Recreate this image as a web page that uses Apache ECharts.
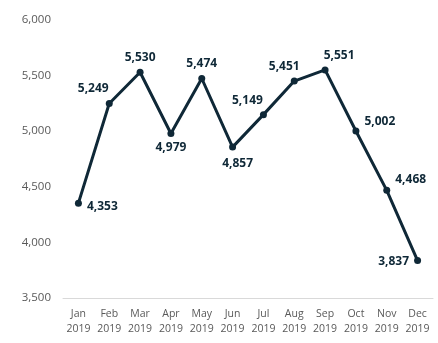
<!DOCTYPE html>
<html>
<head>
<meta charset="utf-8">
<script src="https://cdn.jsdelivr.net/npm/echarts@6/dist/echarts.min.js"></script>
<style>
  html, body { margin: 0; padding: 0; background: #ffffff; }
  #chart { width: 438px; height: 343px; }
</style>
</head>
<body>
<div id="chart"></div>
<script>
// Monthly totals for 2019
const months = ['Jan\n2019', 'Feb\n2019', 'Mar\n2019', 'Apr\n2019', 'May\n2019', 'Jun\n2019',
                'Jul\n2019', 'Aug\n2019', 'Sep\n2019', 'Oct\n2019', 'Nov\n2019', 'Dec\n2019'];
const totals = [4353, 5249, 5530, 4979, 5474, 4857, 5149, 5451, 5551, 5002, 4468, 3837];
const yTicks = [3500, 4000, 4500, 5000, 5500, 6000];

// Where each value label sits around its point
const labelPlacement = [
  { position: 'right', offset: [0, 3] },
  { position: 'top', offset: [-16, 0] },
  { position: 'top', offset: [0, 0] },
  { position: 'bottom', offset: [0, 0] },
  { position: 'top', offset: [0, 0] },
  { position: 'bottom', offset: [5, 2] },
  { position: 'top', offset: [-16, 0] },
  { position: 'top', offset: [-10, 0] },
  { position: 'top', offset: [14, 0] },
  { position: 'right', offset: [0, -9] },
  { position: 'right', offset: [0, -11] },
  { position: 'left', offset: [0, 1] }
];

const fmt = v => v.toLocaleString('en-US');
const ink = '#0f2837';

const chart = echarts.init(document.getElementById('chart'), null, { renderer: 'canvas' });
chart.setOption({
  animation: false,
  grid: { left: 63, right: 5, top: 20, bottom: 45, containLabel: false },
  xAxis: {
    type: 'category',
    data: months,
    boundaryGap: true,
    axisLine: { lineStyle: { color: '#d9d9d9', width: 1 } },
    axisTick: { show: false },
    axisLabel: {
      color: '#595959',
      fontFamily: 'Open Sans',
      fontSize: 10.5,
      lineHeight: 15,
      margin: 9,
      interval: 0
    }
  },
  yAxis: {
    type: 'value',
    min: yTicks[0],
    max: yTicks[yTicks.length - 1],
    interval: 500,
    splitLine: { show: false },
    axisLine: { show: false },
    axisTick: { show: false },
    axisLabel: {
      color: '#595959',
      fontFamily: 'Open Sans',
      fontSize: 11.5,
      margin: 12,
      formatter: v => fmt(v)
    }
  },
  series: [{
    type: 'line',
    data: totals.map((v, i) => ({
      value: v,
      label: { position: labelPlacement[i].position, offset: labelPlacement[i].offset }
    })),
    lineStyle: { color: ink, width: 3 },
    itemStyle: { color: ink },
    symbol: 'circle',
    symbolSize: 7,
    label: {
      show: true,
      distance: 5,
      color: ink,
      fontFamily: 'Open Sans',
      fontWeight: 'bold',
      fontSize: 12,
      formatter: p => fmt(p.value)
    }
  }]
});
</script>
</body>
</html>
